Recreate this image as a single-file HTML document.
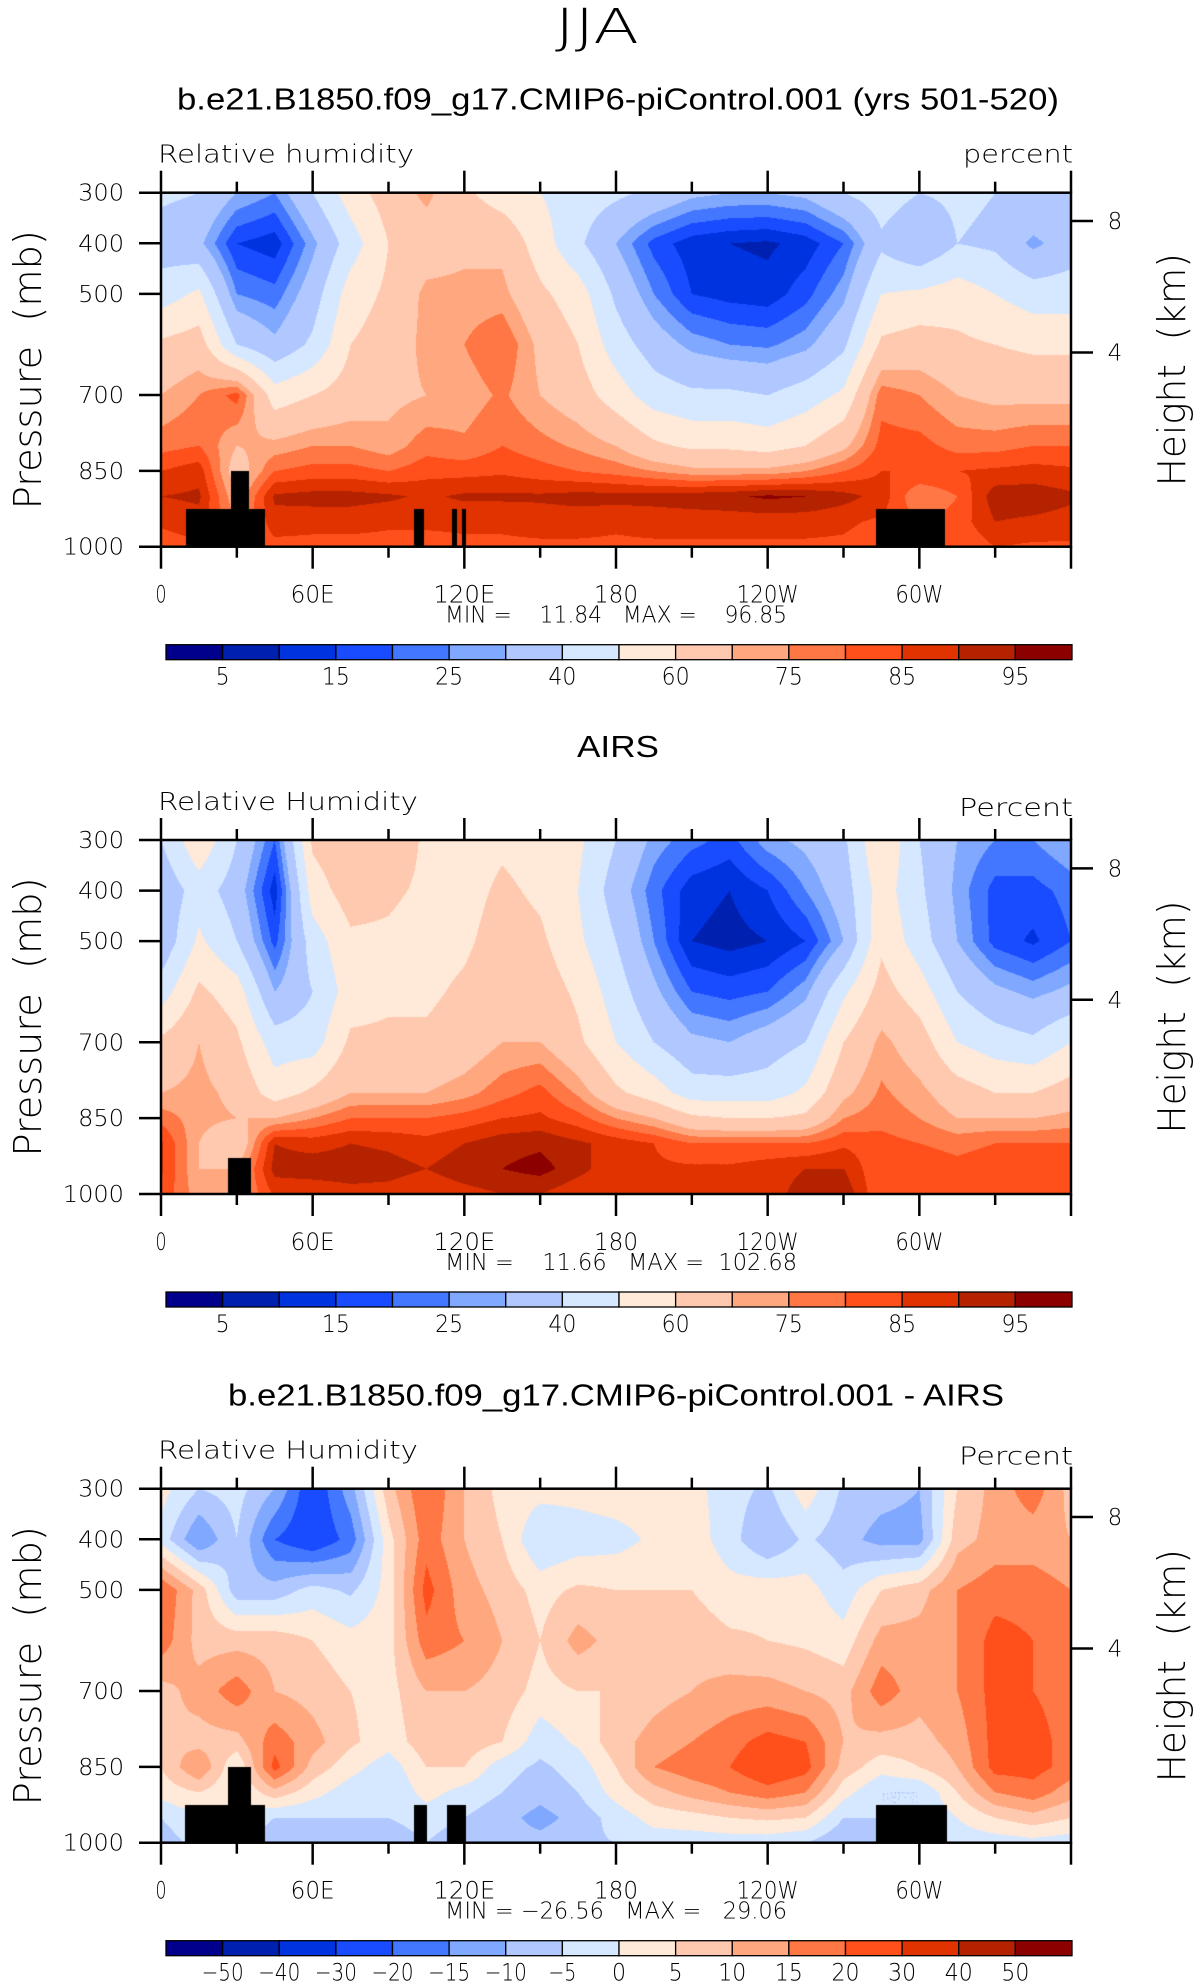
<!DOCTYPE html>
<html><head><meta charset="utf-8">
<style>
html,body{margin:0;padding:0;background:#fff;}
#wrap{position:relative;width:1196px;height:1987px;overflow:hidden;background:#fff;}
canvas{position:absolute;}
svg{position:absolute;left:0;top:0;}
text{font-family:"Liberation Sans",sans-serif;fill:#000;white-space:pre;}
.thin{font-family:"DejaVu Sans ExtraLight","DejaVu Sans","Liberation Sans",sans-serif;font-weight:200;}
</style></head>
<body>
<div id="wrap">
<canvas id="c1" width="910" height="354"></canvas>
<canvas id="c2" width="910" height="354"></canvas>
<canvas id="c3" width="910" height="354"></canvas>
<svg id="ov" width="1196" height="1987" xmlns="http://www.w3.org/2000/svg">
<text class="thin" x="597" y="43" font-size="48" text-anchor="middle" textLength="84" lengthAdjust="spacingAndGlyphs">JJA</text>
</svg>
</div>
<script>
// ---------- data ----------
const lons = [0,15,30,45,60,75,90,105,120,135,150,165,180,195,210,225,240,255,270,285,300,315,330,345,360];
const levels = [300,400,500,600,700,800,850,900,950,1000];
// each row = one longitude, values at levels 300..1000
const rhModel = [
[42,35,45,62,70,78,85,90,86,82],
[40,32,52,65,75,80,88,91,88,84],
[30,15,25,40,82,70,65,70,75,80],
[25,12,22,32,55,72,80,91,88,83],
[40,28,35,42,60,75,82,92,87,83],
[55,45,55,60,65,75,82,92,87,83],
[65,60,62,65,68,72,80,91,86,83],
[72,65,72,72,70,78,83,89,86,83],
[62,68,72,75,72,76,83,91,86,84],
[55,68,72,80,76,80,84,91,86,84],
[50,55,62,68,70,77,82,91,87,84],
[45,42,55,60,65,74,80,92,87,84],
[42,30,38,45,55,70,78,92,86,84],
[38,18,25,35,45,62,75,92,87,84],
[32,12,15,28,42,58,72,93,87,84],
[30,10,13,25,42,58,72,94,87,84],
[30,9,12,24,40,56,72,96,87,84],
[32,12,18,28,45,60,75,95,87,84],
[40,20,28,38,52,68,80,92,86,84],
[45,38,50,62,78,82,85,88,84,82],
[40,30,52,65,75,82,85,75,80,80],
[42,40,55,62,70,78,85,80,82,80],
[40,38,50,60,68,78,86,93,90,85],
[40,28,45,58,68,80,87,93,89,84],
[38,35,45,58,68,80,86,91,88,84]];
const rhAirs = [
[40,32,32,45,62,70,78,86,86,84],
[58,45,52,62,70,72,72,70,70,72],
[40,35,40,55,62,68,70,62,70,72],
[20,12,18,30,45,55,70,90,92,86],
[62,55,45,40,45,62,75,88,93,86],
[68,65,58,55,62,70,80,90,93,88],
[68,62,58,58,62,70,80,89,92,88],
[58,58,55,58,62,70,80,87,90,86],
[55,56,58,62,65,73,82,90,93,88],
[58,62,65,68,70,78,85,93,95,90],
[55,58,62,66,70,82,86,94,97,90],
[52,50,52,58,62,74,82,91,92,86],
[40,35,40,45,50,62,75,88,86,86],
[28,22,25,32,40,55,70,85,86,86],
[22,12,10,20,32,45,62,80,86,86],
[18,10,8,18,30,45,60,80,86,86],
[28,15,10,20,35,45,60,80,88,88],
[32,25,15,28,40,52,62,80,90,92],
[38,35,30,48,60,68,75,84,90,94],
[60,55,58,64,72,76,78,82,80,80],
[40,42,45,55,65,72,75,80,84,82],
[30,28,30,40,50,65,70,78,82,82],
[25,18,18,32,45,60,70,80,84,84],
[25,18,14,28,42,60,70,80,84,84],
[30,22,20,32,50,65,72,80,84,84]];
const rhDiff = [
[2,-2,20,18,8,10,5,2,-5,-8],
[-5,-15,8,8,12,8,15,5,0,-3],
[-3,-5,-8,8,18,8,0,0,0,0],
[-10,-20,-8,8,10,18,22,8,-5,-10],
[-25,-25,-3,5,8,12,8,2,-5,-8],
[-12,-18,-6,2,5,6,2,-3,-5,-8],
[8,3,2,3,3,2,-3,-5,-5,-8],
[20,18,22,18,10,8,5,2,-3,-5],
[10,10,12,15,10,8,5,-2,-5,-8],
[3,5,8,10,8,5,-3,-5,-8,-8],
[2,-5,3,5,3,-3,-6,-8,-12,-8],
[2,-3,6,12,5,1,-3,-5,-8,-6],
[3,-2,5,8,5,8,5,2,-3,-5],
[3,1,5,8,8,12,15,8,2,-3],
[2,3,5,8,10,15,18,12,3,-3],
[-3,-3,2,6,12,18,20,15,5,-3],
[-6,-10,3,5,12,22,25,18,6,-3],
[3,-4,2,4,10,20,22,15,5,-5],
[-6,-8,-3,2,8,10,8,2,-5,-10],
[-8,-12,5,12,18,8,2,-5,-5,-5],
[-10,-12,8,12,12,8,5,-5,-5,-5],
[5,8,15,15,15,12,10,5,0,-3],
[12,12,18,22,22,22,22,15,5,-3],
[18,12,18,20,20,22,22,18,8,-2],
[8,10,15,15,18,18,18,12,5,-3]];
// contour bounds
const boundsRH = [5,10,15,20,25,30,40,50,60,70,75,80,85,90,95];
const labelsRH = ["5","15","25","40","60","75","85","95"];
const boundsDiff = [-50,-40,-30,-20,-15,-10,-5,0,5,10,15,20,30,40,50];
const labelsDiff = ["\u221250","\u221240","\u221230","\u221220","\u221215","\u221210","\u22125","0","5","10","15","20","30","40","50"];
// land (lonStart, lonEnd, topPressure)
const land1 = [[10,41,925],[27.7,35,850],[100,104,925],[115,117,925],[119,120.5,925],[283,310,925]];
const land2 = [[26.5,35.6,929]];
const land3 = [[9.4,41,925],[26.5,35.6,850],[100,105.4,925],[113,120.6,925],[283,311,925]];
const palette = ["#00008c","#0020b0","#0033e0","#1a4cff","#4477ff","#80a8ff","#b0c8ff","#d6e8ff","#ffe9d8","#ffc9b0","#ffa880","#ff7744","#ff501c","#e03300","#b42200","#8c0000"];

// ---------- layout ----------
const PL=161, PW=910, PH=354, T0=192.7;
const offsets=[0,647.3,1296];
function xOf(lon){return PL+lon/360*PW;}
function yOf(p,T){return T+(p-300)/700*PH;}

function interp(grid,lon,p){
  let i=0; while(i<lons.length-2 && lon>lons[i+1]) i++;
  let j=0; while(j<levels.length-2 && p>levels[j+1]) j++;
  const fx=(lon-lons[i])/(lons[i+1]-lons[i]);
  const fy=(p-levels[j])/(levels[j+1]-levels[j]);
  const a=grid[i][j],b=grid[i+1][j],c=grid[i][j+1],d=grid[i+1][j+1];
  return a*(1-fx)*(1-fy)+b*fx*(1-fy)+c*(1-fx)*fy+d*fx*fy;
}
function hexToRgb(h){return [parseInt(h.substr(1,2),16),parseInt(h.substr(3,2),16),parseInt(h.substr(5,2),16)];}
const pal=palette.map(hexToRgb);
function renderPanel(id,grid,bounds,land,T){
  const cv=document.getElementById(id);
  cv.style.left=PL+'px'; cv.style.top=T+'px';
  const ctx=cv.getContext('2d');
  const img=ctx.createImageData(PW,PH);
  for(let py=0;py<PH;py++){
    const p=300+(py+0.5)/PH*700;
    for(let px=0;px<PW;px++){
      const lon=(px+0.5)/PW*360;
      const v=interp(grid,lon,p);
      let k=0; while(k<bounds.length && v>=bounds[k]) k++;
      let col=pal[k];
      for(const L of land){ if(lon>=L[0]&&lon<=L[1]&&p>=L[2]){col=[0,0,0];break;} }
      const o=(py*PW+px)*4;
      img.data[o]=col[0];img.data[o+1]=col[1];img.data[o+2]=col[2];img.data[o+3]=255;
    }
  }
  ctx.putImageData(img,0,0);
}

const NS="http://www.w3.org/2000/svg";
const ov=document.getElementById('ov');
function mk(tag,attrs,txt){
  const e=document.createElementNS(NS,tag);
  for(const k in attrs) e.setAttribute(k,attrs[k]);
  if(txt!==undefined) e.textContent=txt;
  ov.appendChild(e);
  return e;
}
const xLabs=["0","60E","120E","180","120W","60W"];
const xLabW=[11,44,62,44,62,48];
const pTicks=[300,400,500,600,700,850,1000];
const pLabs=["300","400","500","","700","850","1000"];
const kmP=[356,616];
const kmLabs=["8","4"];

const titles=[
 {t:"b.e21.B1850.f09_g17.CMIP6-piControl.001 (yrs 501-520)",x:177,w:882,left:"Relative humidity",lw:256,right:"percent",rw:110,rdy:0,mm:"MIN =    11.84   MAX =    96.85",mmx:445,mmw:342},
 {t:"AIRS",x:577,w:82,left:"Relative Humidity",lw:260,right:"Percent",rw:114,rdy:6,mm:"MIN =    11.66   MAX =  102.68",mmx:445,mmw:352},
 {t:"b.e21.B1850.f09_g17.CMIP6-piControl.001 - AIRS",x:228,w:776,left:"Relative Humidity",lw:260,right:"Percent",rw:114,rdy:6,mm:"MIN = \u221226.56   MAX =   29.06",mmx:445,mmw:342}
];
const grids=[rhModel,rhAirs,rhDiff];
const lands=[land1,land2,land3];
const ids=['c1','c2','c3'];

for(let n=0;n<3;n++){
  const T=T0+offsets[n], B=T+PH;
  renderPanel(ids[n],grids[n],n<2?boundsRH:boundsDiff,lands[n],T);
  const ti=titles[n];
  let e;
  e=mk('text',{x:ti.x,y:T-83,'font-size':31,textLength:ti.w,lengthAdjust:'spacingAndGlyphs'},ti.t);
  
  
  e=mk('text',{x:158,y:T-30,'font-size':25,'class':'thin',textLength:ti.lw,lengthAdjust:'spacingAndGlyphs'},ti.left);
  
  
  e=mk('text',{x:1073-ti.rw,y:T-30+ti.rdy,'font-size':25,'class':'thin',textLength:ti.rw,lengthAdjust:'spacingAndGlyphs'},ti.right);
  
  
  // frame
  e=mk('rect',{x:PL,y:T,width:PW,height:PH,fill:'none',stroke:'#000','stroke-width':2.5});
  
  
  // x ticks
  for(let lon=0;lon<=360;lon+=30){
    const major=lon%60===0, len=major?22:11, x=xOf(lon);
    e=mk('line',{x1:x,y1:T,x2:x,y2:T-len,stroke:'#000','stroke-width':2.5});
    
    
    e=mk('line',{x1:x,y1:B,x2:x,y2:B+len,stroke:'#000','stroke-width':2.5});
    
    
  }
  xLabs.forEach((s,i)=>{
    const t=mk('text',{x:xOf(i*60),y:B+56,'font-size':24,'class':'thin','text-anchor':'middle',textLength:xLabW[i],lengthAdjust:'spacingAndGlyphs'},s);
    
    
  });
  // pressure ticks
  pTicks.forEach((p,i)=>{
    if(!pLabs[i]) return;
    const y=yOf(p,T);
    let l=mk('line',{x1:PL-22,y1:y,x2:PL,y2:y,stroke:'#000','stroke-width':2.5});
    
    
    let t=mk('text',{x:124,y:y+8,'font-size':23,'class':'thin','text-anchor':'end',textLength:pLabs[i].length*15.3,lengthAdjust:'spacingAndGlyphs'},pLabs[i]);
    
    
  });
  kmP.forEach((p,i)=>{
    const y=yOf(p,T);
    let l=mk('line',{x1:PL+PW,y1:y,x2:PL+PW+22,y2:y,stroke:'#000','stroke-width':2.5});
    
    
    let t=mk('text',{x:1115,y:y+8,'font-size':23,'class':'thin','text-anchor':'middle'},kmLabs[i]);
    
    
  });
  // axis titles
  const cy=T+177;
  e=mk('text',{x:0,y:0,'font-size':38,'class':'thin','text-anchor':'middle',textLength:279,lengthAdjust:'spacingAndGlyphs',transform:`translate(41,${cy}) rotate(-90)`},'Pressure  (mb)');
  
  
  e=mk('text',{x:0,y:0,'font-size':38,'class':'thin','text-anchor':'middle',textLength:233,lengthAdjust:'spacingAndGlyphs',transform:`translate(1185,${cy}) rotate(-90)`},'Height  (km)');
  
  
  // min max
  e=mk('text',{x:ti.mmx,y:B+76,'font-size':23,'class':'thin',textLength:ti.mmw,lengthAdjust:'spacingAndGlyphs'},ti.mm);
  
  
  // colorbar
  const cbL=166, cbW=906/16, cbT=B+98;
  palette.forEach((c,i)=>{
    const r=mk('rect',{x:cbL+i*cbW,y:cbT,width:cbW,height:15,fill:c,stroke:'#000','stroke-width':1.3});
    
    
  });
  if(n<2){
    labelsRH.forEach((s,i)=>{
      const t=mk('text',{x:cbL+(2*i+1)*cbW,y:B+138,'font-size':24,'class':'thin','text-anchor':'middle',textLength:s.length*14,lengthAdjust:'spacingAndGlyphs'},s);
      
      
    });
  } else {
    labelsDiff.forEach((s,i)=>{
      const t=mk('text',{x:cbL+(i+1)*cbW,y:B+138,'font-size':24,'class':'thin','text-anchor':'middle',textLength:s.length*14,lengthAdjust:'spacingAndGlyphs'},s);
      
      
    });
  }
}
</script>
</body></html>
